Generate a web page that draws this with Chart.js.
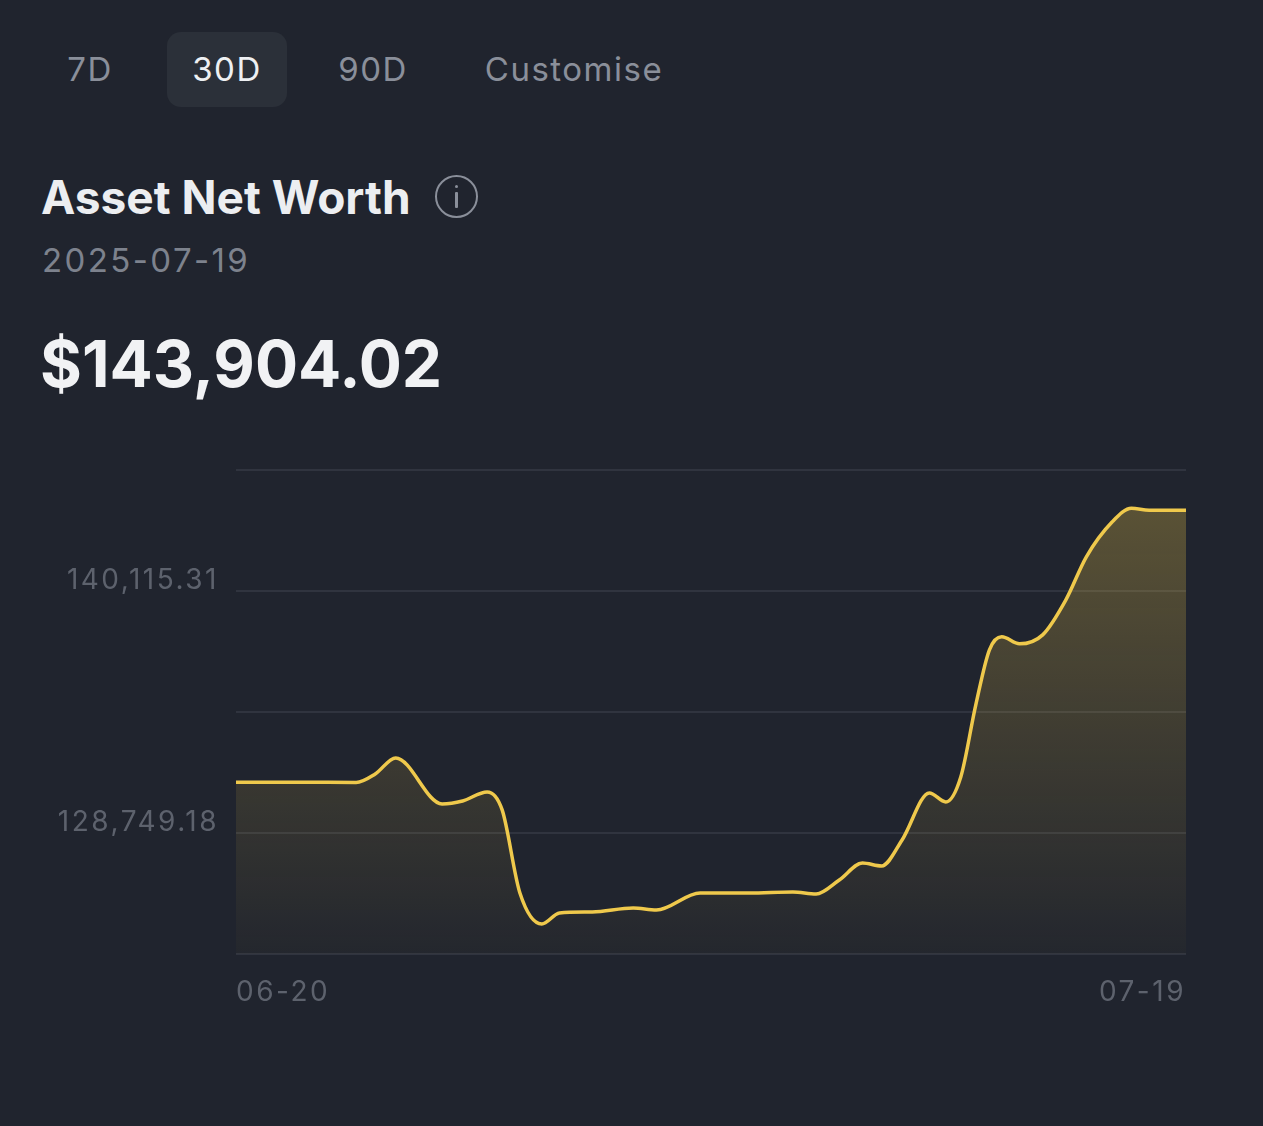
<!DOCTYPE html>
<html>
<head>
<meta charset="utf-8">
<script src="https://cdn.jsdelivr.net/npm/chart.js@4.4.1/dist/chart.umd.min.js"></script>
<style>
  html, body { margin: 0; padding: 0; background: #20242e; }
  body { width: 1263px; height: 1126px; position: relative; overflow: hidden; font-family: Inter, "Noto Sans", sans-serif; }
  .tabs { position: absolute; top: 32px; left: 0; height: 75px; }
  .tab { position: absolute; top: 0; height: 75px; line-height: 75px; font-size: 33px; color: #8a8f9a; text-align: center; letter-spacing: 1.5px; }
  .tab.active { background: #2b3039; border-radius: 14px; color: #eef0f3; }
  .title { position: absolute; left: 41px; top: 169px; font-size: 46px; font-weight: 700; color: #eceef1; }
  .info { position: absolute; left: 435px; top: 175px; width: 43px; height: 43px; border: 2.5px solid #8a8f9a; border-radius: 50%; box-sizing: border-box; }
  .info::before { content: ""; position: absolute; left: 17.5px; top: 8px; width: 3px; height: 3px; background: #8a8f9a; border-radius: 50%; }
  .info::after { content: ""; position: absolute; left: 17.5px; top: 15px; width: 3px; height: 16px; background: #8a8f9a; border-radius: 1px; }
  .date { position: absolute; left: 42px; top: 240px; font-size: 33px; color: #7d828d; letter-spacing: 2.4px; }
  .value { position: absolute; left: 40px; top: 325px; font-size: 64px; font-weight: 700; color: #f1f2f4; }
  #wrap { position: absolute; left: 0; top: 436px; width: 1200px; height: 594px; }
</style>
</head>
<body>
<div class="tabs">
  <div class="tab" style="left:60px;width:60px;">7D</div>
  <div class="tab active" style="left:167px;width:120px;">30D</div>
  <div class="tab" style="left:333px;width:80px;">90D</div>
  <div class="tab" style="left:480px;width:188px;">Customise</div>
</div>
<div class="title">Asset Net Worth</div>
<div class="info"></div>
<div class="date">2025-07-19</div>
<div class="value">$143,904.02</div>
<div id="wrap"><canvas id="net-worth"></canvas></div>
<script>
// hours since 06-20 00:00
const sampleHours = [0, 47, 88, 102, 117, 151, 166, 184, 195, 208, 224, 237, 261, 291, 308,
  340, 376, 408, 425, 442, 459, 473, 488, 508, 520, 531, 542, 552, 561, 574, 591, 608, 623,
  642, 656, 669, 696];
const netWorth = [131131, 131131, 131121, 131520, 132272, 130111, 130252, 130675, 129830,
  125931, 124475, 124992, 125039, 125227, 125133, 125931, 125931, 125978, 125884, 126542, 127340,
  127199, 128420, 130628, 130205, 131379, 134761, 137344, 137955, 137626, 138048, 139692, 141712,
  143356, 143990, 143904, 143904.02];
const tickLabels = ['06-20', '07-19'];
const gridValues = [123066.12, 128749.18, 134432.25, 140115.31, 145798.38];
const labeledValues = [128749.18, 140115.31];

const $ctx = document.getElementById('net-worth').getContext('2d');

let fillGradient = (context) => {
  const area = context.chart.chartArea;
  if (!area) return 'rgba(240,201,74,0.2)';
  const g = context.chart.ctx.createLinearGradient(0, area.top, 0, area.bottom);
  g.addColorStop(0, 'rgba(240,201,74,0.30)');
  g.addColorStop(1, 'rgba(240,201,74,0.02)');
  return g;
};

// wider tick text, like the app's font
const spacedText = {
  id: 'spacedText',
  beforeDraw: (chart) => { chart.ctx.letterSpacing = '2.5px'; },
};

const data = {
  datasets: [{
    label: 'Asset Net Worth',
    data: sampleHours.map((h, i) => ({ x: h, y: netWorth[i] })),
    borderColor: '#efc94c',
    borderWidth: 3.5,
    backgroundColor: fillGradient,
    fill: 'start',
    cubicInterpolationMode: 'monotone',
    pointRadius: 0,
  }],
};

const config = {
  type: 'line',
  data,
  plugins: [spacedText],
  options: {
    responsive: true,
    maintainAspectRatio: false,
    animation: false,
    layout: { padding: { top: 5, right: 11, bottom: 0 } },
    plugins: { legend: { display: false }, tooltip: { enabled: false } },
    scales: {
      x: {
        type: 'linear',
        min: 0,
        max: 696,
        grid: { display: false },
        border: { display: false },
        afterBuildTicks: (scale) => { scale.ticks = [{ value: 0 }, { value: 696 }]; },
        afterFit: (scale) => { scale.height = 76; },
        ticks: {
          align: 'inner',
          padding: 14,
          maxRotation: 0,
          color: '#5d626d',
          font: { family: 'Inter', size: 28 },
          callback: (v) => (v === 0 ? tickLabels[0] : tickLabels[1]),
        },
      },
      y: {
        min: gridValues[0],
        max: gridValues[gridValues.length - 1],
        grid: { color: '#30343f', lineWidth: 2, drawTicks: false },
        border: { display: false },
        afterBuildTicks: (scale) => { scale.ticks = gridValues.map(v => ({ value: v })); },
        afterFit: (scale) => { scale.width = 236; },
        ticks: {
          padding: 17,
          labelOffset: -10,
          color: '#5d626d',
          font: { family: 'Inter', size: 28 },
          callback: (v) => labeledValues.includes(v)
            ? v.toLocaleString('en-US', { minimumFractionDigits: 2, maximumFractionDigits: 2 })
            : '',
        },
      },
    },
  },
};

const netWorthChart = new Chart($ctx, config);
</script>
</body>
</html>
